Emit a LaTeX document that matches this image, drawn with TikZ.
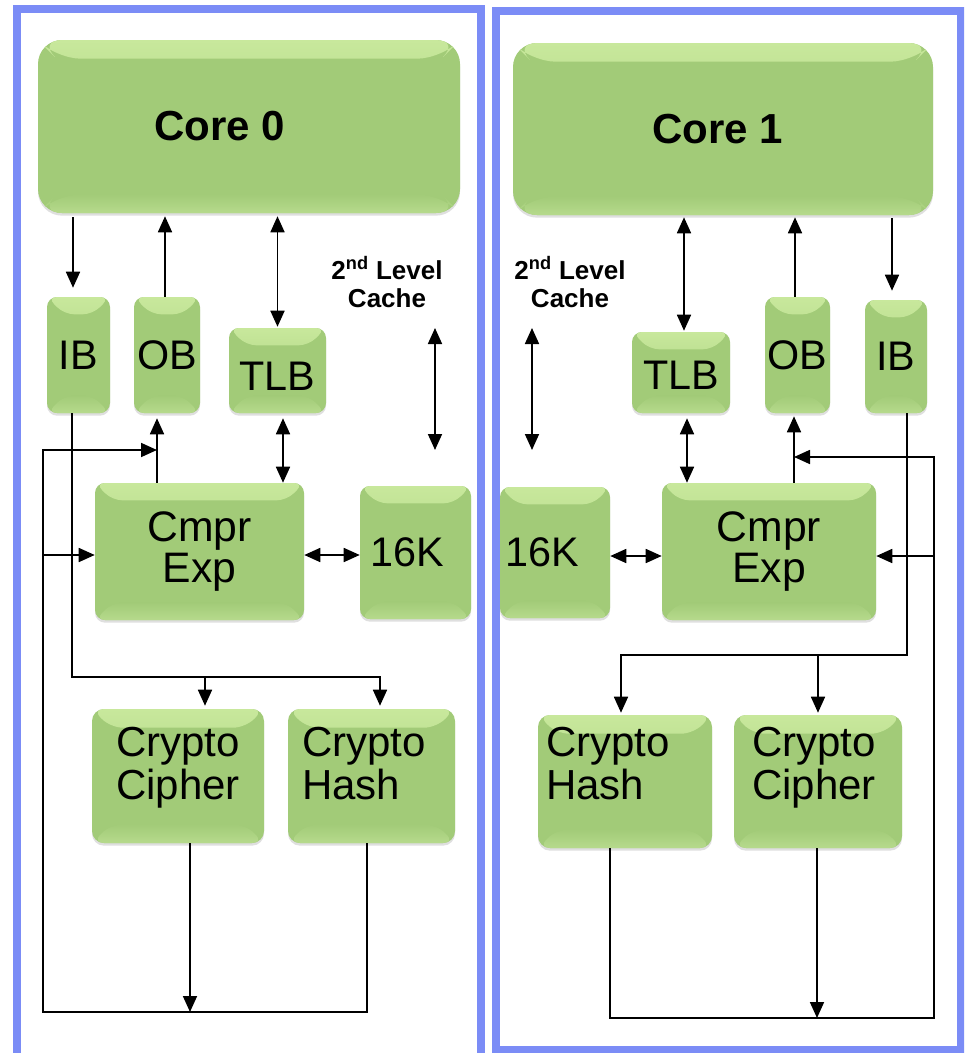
\documentclass[tikz,border=0pt]{standalone}
\usepackage{fontspec}
\setmainfont{Liberation Sans}
\usetikzlibrary{arrows.meta,calc,shadows}
\definecolor{gmain}{RGB}{162,203,120}
\definecolor{gtop}{RGB}{200,232,156}
\definecolor{gbot}{RGB}{182,218,140}
\definecolor{panelblue}{RGB}{123,140,246}
\newcommand\dgBig{\fontsize{31}{31}\selectfont}
\newcommand\dgCmp{\fontsize{32}{31}\selectfont}
\newcommand\dgCry{\fontsize{31.5}{31.5}\selectfont}
\newcommand\dgCore{\fontsize{31.5}{31}\selectfont\bfseries}
\newcommand\dgCache{\fontsize{19.5}{21}\selectfont\bfseries}
\newcommand\dgLift[2]{\raisebox{#1}[\height][\depth]{#2}}
\begin{document}
\begin{tikzpicture}[x=0.75pt,y=-0.75pt,
  gel/.style 2 args={draw=none, fill=gmain, rounded corners=#1, inner sep=0pt,
    drop shadow={shadow xshift=0pt, shadow yshift=-2pt, opacity=0.25},
    path picture={
      \path[top color=gtop, bottom color=gmain]
        (path picture bounding box.north west) -- (path picture bounding box.north east)
        -- ([xshift=-#2,yshift=-#2]path picture bounding box.north east)
        -- ([xshift=#2,yshift=-#2]path picture bounding box.north west) -- cycle;
      \path[bottom color=gbot, top color=gmain]
        (path picture bounding box.south west) -- (path picture bounding box.south east)
        -- ([xshift=-#2,yshift=#2]path picture bounding box.south east)
        -- ([xshift=#2,yshift=#2]path picture bounding box.south west) -- cycle;
    }},
  small/.style={gel={7.5pt}{13pt}, font=\dgBig},
  big/.style={gel={18pt}{14pt}, font=\dgCore},
  crypto/.style={gel={9pt}{14pt}, font=\dgCry, align=left},
  cache/.style={font=\dgCache, align=center},
  panel/.style={draw=panelblue, line width=6pt},
  arr/.style={-{Triangle[length=12pt,width=10.5pt]}, line width=1.3pt},
  darr/.style={{Triangle[length=12pt,width=10.5pt]}-{Triangle[length=12pt,width=10.5pt]}, line width=1.3pt},
]
\clip (0,0) rectangle (964,1053);
\fill[white] (0,0) rectangle (964,1053);

% panels
\draw[panel] (17,9) rectangle (481,1075);
\draw[panel] (495.5,11) rectangle (960.5,1049.5);

% ---------- left: core 0 ----------
\node[big, minimum width=316.5pt, minimum height=129.75pt] (core0) at (249,126.5) {Core 0\hspace*{43.5pt}};
\node[small, minimum width=47.25pt, minimum height=87pt] (ib0) at (78.5,355) {IB};
\node[small, minimum width=49.5pt, minimum height=87pt] (ob0) at (167,355) {OB};
\node[small, minimum width=72.75pt, minimum height=63.75pt] (tlb0) at (277.5,370.5) {\dgLift{-4pt}{TLB}};
\node[small, font=\dgCmp, minimum width=156.75pt, minimum height=102.75pt, align=center] (cmpr0) at (199.5,551.5) {Cmpr\\Exp};
\node[small, minimum width=83.25pt, minimum height=99.75pt] (k16a) at (415.5,552.5) {16K\hspace*{12.75pt}};
\node[crypto, text width=129pt, minimum height=100.5pt] (cip0) at (178,776)
  {\hspace*{18pt}\dgLift{4.5pt}{\begin{tabular}{@{}l@{}}Crypto\\Cipher\end{tabular}}};
\node[crypto, text width=125.25pt, minimum height=100.5pt] (hash0) at (371.5,776)
  {\hspace*{10.5pt}\dgLift{4.5pt}{\begin{tabular}{@{}l@{}}Crypto\\Hash\end{tabular}}};
\node[cache] (cache0) at (387,282) {2\textsuperscript{nd} Level\\Cache};

% ---------- right: core 1 ----------
\node[big, minimum width=315pt, minimum height=129pt] (core1) at (723,129) {Core 1\hspace*{8.25pt}};
\node[small, minimum width=73.5pt, minimum height=60.75pt] (tlb1) at (681,372.5) {\dgLift{-2pt}{TLB}};
\node[small, minimum width=48.75pt, minimum height=87pt] (ob1) at (797.5,355) {OB};
\node[small, minimum width=46.5pt, minimum height=84.75pt] (ib1) at (896,356.5) {IB};
\node[small, minimum width=82.5pt, minimum height=98.25pt] (k16b) at (555,552.5) {16K\hspace*{18.75pt}};
\node[small, font=\dgCmp, minimum width=160.5pt, minimum height=102.75pt, align=center] (cmpr1) at (769,551.5) {Cmpr\\Exp};
\node[crypto, text width=130.5pt, minimum height=99.75pt] (hash1) at (625,781.5)
  {\hspace*{6pt}\dgLift{9pt}{\begin{tabular}{@{}l@{}}Crypto\\Hash\end{tabular}}};
\node[crypto, text width=126pt, minimum height=99.75pt] (cip1) at (818,781.5)
  {\hspace*{13.5pt}\dgLift{9pt}{\begin{tabular}{@{}l@{}}Crypto\\Cipher\end{tabular}}};
\node[cache] (cache1) at (570,282) {2\textsuperscript{nd} Level\\Cache};

% ---------- left connectors ----------
\draw[arr] ($(ib0.north|-core0.south)+(-5.5,4)$) -- ($(ib0.north)+(-5.5,-9)$);
\draw[arr] ($(ob0.north)+(-2,0)$) -- ($(ob0.north|-core0.south)+(-2,3)$);
\draw[darr] ($(tlb0.north)+(0,-1)$) -- ($(tlb0.north|-core0.south)+(0,3)$);
\draw[arr] ($(cmpr0.north)+(-42.5,0)$) coordinate (ob0in) -- ($(ob0in|-ob0.south)+(0,5)$);
\draw[darr] ($(tlb0.south)+(5.5,5)$) -- ($(tlb0.south|-cmpr0.north)+(5.5,0)$);
\draw[darr] ($(cmpr0.east)+(0,3.5)$) -- ($(k16a.west)+(0,2.5)$);
\coordinate (c0a) at (435,328);
\coordinate (c0b) at (435,450);
\draw[darr] (c0a) -- (c0b);
\draw[arr] ($(ib0.south)+(-6.5,0)$) |- ($(hash0.north)+(8.5,-32)$) -- ($(hash0.north)+(8.5,-3)$);
\draw[arr] ($(cip0.north)+(27,-32)$) -- ($(cip0.north)+(27,-3)$);
\coordinate (L0) at (43,1012);
\coordinate (Ltop) at (43,450);
\draw[arr] ($(hash0.south)+(-4.5,0)$) |- (L0) -- (Ltop) -- (Ltop -| ob0in);
\draw[arr] ($(Ltop|-cmpr0.west)+(0,3.5)$) -- ($(cmpr0.west)+(0,3.5)$);
\draw[arr] ($(cip0.south)+(12,0)$) -- ($(cip0.south|-L0)+(12,0)$);

% ---------- right connectors ----------
\draw[darr] ($(tlb1.north)+(3,-1)$) -- ($(tlb1.north|-core1.south)+(3,2)$);
\draw[arr] ($(ob1.north)+(-2.5,0)$) -- ($(ob1.north|-core1.south)+(-2.5,2)$);
\draw[arr] ($(ib1.north|-core1.south)+(-4,3)$) -- ($(ib1.north)+(-4,-9)$);
\draw[darr] ($(tlb1.south)+(6,5)$) -- ($(tlb1.south|-cmpr1.north)+(6,0)$);
\draw[arr] ($(cmpr1.north)+(25,0)$) coordinate (ob1in) -- ($(ob1in|-ob1.south)+(0,3)$);
\draw[darr] ($(k16b.east)+(0,3.5)$) -- ($(cmpr1.west)+(0,4.5)$);
\coordinate (c1a) at (532,328);
\coordinate (c1b) at (532,450);
\draw[darr] (c1a) -- (c1b);
\draw[arr] ($(ib1.south)+(11,0)$) |- ($(hash1.north)+(-4,-60)$) -- ($(hash1.north)+(-4,-2)$);
\draw[arr] ($(cip1.north)+(0,-60)$) -- ($(cip1.north)+(0,-2)$);
\coordinate (R0) at (934,1018);
\coordinate (Rtop) at (934,457);
\draw[arr] ($(hash1.south)+(-15,0)$) |- (R0) -- (Rtop) -- (Rtop -| ob1in);
\draw[arr] ($(Rtop|-cmpr1.east)+(0,4.5)$) -- ($(cmpr1.east)+(0,4.5)$);
\draw[arr] ($(cip1.south)+(-1,0)$) -- ($(cip1.south|-R0)+(-1,0)$);
\end{tikzpicture}
\end{document}
